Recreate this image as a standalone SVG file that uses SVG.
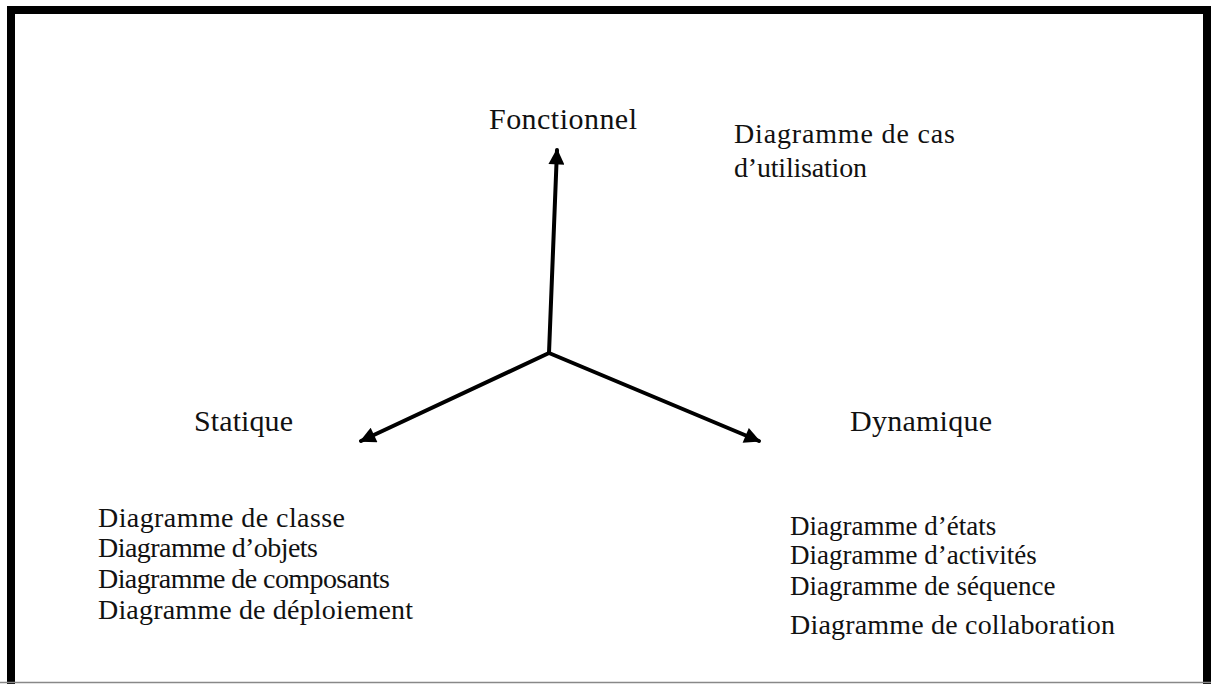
<svg xmlns="http://www.w3.org/2000/svg" width="1211" height="684" viewBox="0 0 1211 684">
<style>
text{font-family:"Liberation Serif","Times New Roman",serif;font-size:28px;fill:#111}
.h{font-size:30px}
.s{font-size:27px}
.ax{stroke:#000;stroke-width:4;fill:none;stroke-linecap:round}
</style>
<defs>
<marker id="ah" viewBox="0 0 10 10" refX="9" refY="5" markerWidth="4.5" markerHeight="4" orient="auto" markerUnits="strokeWidth">
<path d="M0,0 L10,5 L0,10 z" fill="#000"/>
</marker>
</defs>
<rect x="0" y="0" width="1211" height="684" fill="#fff"/>
<path d="M11,684 V10 H1207 V684" fill="none" stroke="#000" stroke-width="8"/>
<line x1="0" y1="682.5" x2="1211" y2="682.5" stroke="#888" stroke-width="1.5"/>
<g id="connectors">
<line class="ax" x1="549" y1="353" x2="557" y2="150" marker-end="url(#ah)"/>
<line class="ax" x1="549" y1="353" x2="361" y2="441" marker-end="url(#ah)"/>
<line class="ax" x1="549" y1="353" x2="759" y2="441" marker-end="url(#ah)"/>
</g>
<g id="fonctionnel"><text class="h" x="489" y="129" textLength="148">Fonctionnel</text></g>
<g id="cas"><text x="734" y="143" textLength="221">Diagramme de cas</text><text x="734" y="177" textLength="133">d’utilisation</text></g>
<g id="statique"><text class="h" x="194" y="431" textLength="99">Statique</text></g>
<g id="dynamique"><text class="h" x="850" y="431" textLength="142">Dynamique</text></g>
<g id="statique-list">
<text x="98" y="527" textLength="247">Diagramme de classe</text>
<text x="98" y="557" textLength="220">Diagramme d’objets</text>
<text x="98" y="588" textLength="292">Diagramme de composants</text>
<text x="98" y="619" textLength="315">Diagramme de déploiement</text>
</g>
<g id="dynamique-list">
<text class="s" x="790" y="535">Diagramme d’états</text>
<text class="s" x="790" y="564">Diagramme d’activités</text>
<text class="s" x="790" y="595">Diagramme de séquence</text>
<text x="790" y="634" textLength="325">Diagramme de collaboration</text>
</g>
</svg>
